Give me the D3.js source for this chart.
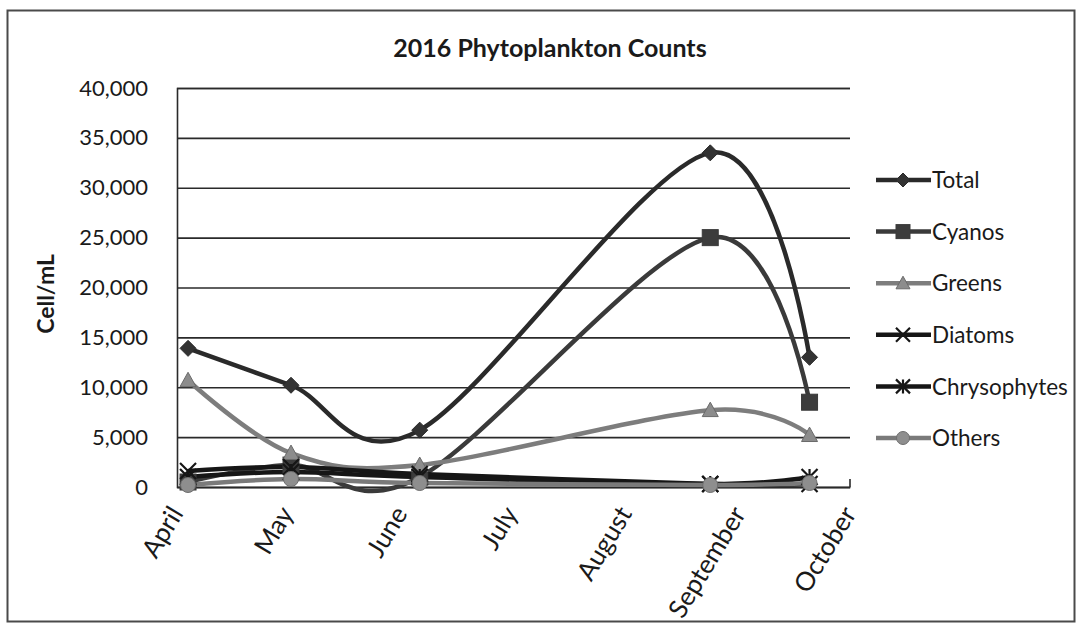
<!DOCTYPE html>
<html>
<head>
<meta charset="utf-8">
<script src="https://cdn.jsdelivr.net/npm/d3@7"></script>
<style>
  html, body { margin: 0; padding: 0; background: #fff; }
  svg { display: block; }
  text { font-family: Lato, "Open Sans", sans-serif; fill: #1a1a1a; }
</style>
</head>
<body>
<svg id="chart" width="1078" height="625"></svg>
<script>
// Sampling dates (2016) and counts in cells per mL
const sampleDates = ["2016-04-04", "2016-05-02", "2016-06-06", "2016-08-24", "2016-09-20"];
const monthLabels = ["April", "May", "June", "July", "August", "September", "October"];
const yTicks = [0, 5000, 10000, 15000, 20000, 25000, 30000, 35000, 40000];
const seriesNames = ["Total", "Cyanos", "Greens", "Diatoms", "Chrysophytes", "Others"];

const total        = [13900, 10200, 5700, 33500, 13000];
const cyanos       = [500, 2200, 1000, 25000, 8500];
const greens       = [10700, 3400, 2200, 7700, 5200];
const diatoms      = [1600, 2000, 1300, 300, 300];
const chrysophytes = [1000, 1500, 1000, 300, 1000];
const others       = [200, 800, 400, 200, 400];

const seriesValues = [total, cyanos, greens, diatoms, chrysophytes, others];

// Appearance per series: line colour, marker shape, marker fill
const seriesStyle = [
  { stroke: "#2a2a2a", shape: "diamond",  fill: "#333333", size: 16 },
  { stroke: "#3a3a3a", shape: "square",   fill: "#3c3c3c", size: 16 },
  { stroke: "#7d7d7d", shape: "triangle", fill: "#8c8c8c", size: 16 },
  { stroke: "#161616", shape: "x",        fill: "none",    size: 16 },
  { stroke: "#161616", shape: "asterisk", fill: "none",    size: 16 },
  { stroke: "#7a7a7a", shape: "circle",   fill: "#8e8e8e", size: 15 }
];

const svg = d3.select("#chart");
const parse = d3.utcParse("%Y-%m-%d");
const dates = sampleDates.map(parse);

const plot = { left: 177, right: 850, top: 88, bottom: 487 };

// Everything inside the frame is clipped to it
svg.append("clipPath").attr("id", "frame-clip")
  .append("rect").attr("x", 8).attr("y", 11).attr("width", 1066).attr("height", 610);
const root = svg.append("g").attr("clip-path", "url(#frame-clip)");

const x = d3.scaleUtc()
  .domain([Date.UTC(2016, 3, 1), Date.UTC(2016, 9, 1)])
  .range([plot.left, plot.right]);
const y = d3.scaleLinear().domain([0, 40000]).range([plot.bottom, plot.top]);
const monthTicks = d3.utcMonth.range(new Date(Date.UTC(2016, 3, 1)), new Date(Date.UTC(2016, 9, 2)));

// Title
root.append("text")
  .attr("x", 550).attr("y", 57)
  .attr("text-anchor", "middle")
  .attr("font-size", 25).attr("font-weight", "bold")
  .text("2016 Phytoplankton Counts");

// Horizontal gridlines and y labels
const yAxis = d3.axisLeft(y).tickValues(yTicks)
  .tickSize(-(plot.right - plot.left))
  .tickPadding(29)
  .tickFormat(d3.format(","));
const gy = root.append("g").attr("transform", `translate(${plot.left},0)`).call(yAxis);
gy.select(".domain").attr("stroke", "#2a2a2a").attr("stroke-width", 1.6);
gy.selectAll(".tick line").attr("stroke", "#2a2a2a").attr("stroke-width", 1.6);
gy.selectAll(".tick text")
  .attr("font-size", 22).attr("font-family", "Lato, sans-serif").attr("fill", "#1a1a1a");

// Bottom axis with month labels
const xAxis = d3.axisBottom(x).tickValues(monthTicks)
  .tickSize(0)
  .tickFormat((d, i) => monthLabels[i]);
const gx = root.append("g").attr("transform", `translate(0,${plot.bottom})`).call(xAxis);
gx.select(".domain").attr("stroke", "#2a2a2a").attr("stroke-width", 1.6);
gx.selectAll(".tick text")
  .attr("font-size", 26).attr("font-family", "Lato, sans-serif").attr("fill", "#1a1a1a")
  .attr("text-anchor", "end")
  .attr("dy", 0)
  .attr("transform", "translate(4,25) rotate(-59)");
// Closing tick at the right end of the axis
root.append("line")
  .attr("x1", x(monthTicks[monthTicks.length - 1])).attr("x2", x(monthTicks[monthTicks.length - 1]))
  .attr("y1", plot.bottom).attr("y2", plot.bottom - 8)
  .attr("stroke", "#2a2a2a").attr("stroke-width", 1.6);

// Y axis title
root.append("text")
  .attr("transform", "translate(54,294) rotate(-90)")
  .attr("text-anchor", "middle")
  .attr("font-size", 23).attr("font-weight", "bold")
  .text("Cell/mL");

// Marker drawing
function marker(sel, shape, size, stroke, fill) {
  const r = size / 2;
  if (shape === "diamond") {
    sel.append("path").attr("d", `M0,${-r}L${r},0L0,${r}L${-r},0Z`)
      .attr("fill", fill).attr("stroke", stroke).attr("stroke-width", 1);
  } else if (shape === "square") {
    sel.append("rect").attr("x", -r).attr("y", -r).attr("width", size).attr("height", size)
      .attr("fill", fill).attr("stroke", stroke).attr("stroke-width", 1);
  } else if (shape === "triangle") {
    sel.append("path").attr("d", `M0,${-r}L${r},${r * 0.8}L${-r},${r * 0.8}Z`)
      .attr("fill", fill).attr("stroke", "#6a6a6a").attr("stroke-width", 1);
  } else if (shape === "x") {
    sel.append("path").attr("d", `M${-r},${-r}L${r},${r}M${-r},${r}L${r},${-r}`)
      .attr("fill", "none").attr("stroke", stroke).attr("stroke-width", 2.2);
  } else if (shape === "asterisk") {
    sel.append("path").attr("d", `M${-r},${-r}L${r},${r}M${-r},${r}L${r},${-r}M0,${-r}L0,${r}`)
      .attr("fill", "none").attr("stroke", stroke).attr("stroke-width", 2.2);
  } else if (shape === "circle") {
    sel.append("circle").attr("r", r)
      .attr("fill", fill).attr("stroke", "#6e6e6e").attr("stroke-width", 1);
  }
}

// Smoothed series lines
const line = d3.line()
  .x((d, i) => x(dates[i]))
  .y(d => y(d))
  .curve(d3.curveCardinal.tension(0));

const series = root.append("g");
seriesValues.forEach((vals, k) => {
  const st = seriesStyle[k];
  series.append("path")
    .datum(vals)
    .attr("d", line)
    .attr("fill", "none")
    .attr("stroke", st.stroke)
    .attr("stroke-width", 4.5)
    .attr("stroke-linejoin", "round");
});
seriesValues.forEach((vals, k) => {
  const st = seriesStyle[k];
  vals.forEach((v, i) => {
    const g = series.append("g").attr("transform", `translate(${x(dates[i])},${y(v)})`);
    marker(g, st.shape, st.size, st.stroke, st.fill);
  });
});

// Legend
const legend = root.append("g").attr("transform", "translate(876,180)");
seriesNames.forEach((name, k) => {
  const st = seriesStyle[k];
  const g = legend.append("g").attr("transform", `translate(0,${k * 51.6})`);
  g.append("line").attr("x1", 0).attr("x2", 55).attr("y1", 0).attr("y2", 0)
    .attr("stroke", st.stroke).attr("stroke-width", 4.5);
  const m = g.append("g").attr("transform", "translate(27,0)");
  marker(m, st.shape, st.size - 2, st.stroke, st.fill);
  g.append("text").attr("x", 56).attr("y", 0).attr("dy", "0.36em")
    .attr("font-size", 22.5).text(name);
});

// Outer frame
svg.append("rect")
  .attr("x", 7.5).attr("y", 10.5).attr("width", 1067).attr("height", 611)
  .attr("fill", "none").attr("stroke", "#4a4a4a").attr("stroke-width", 2);
</script>
</body>
</html>
